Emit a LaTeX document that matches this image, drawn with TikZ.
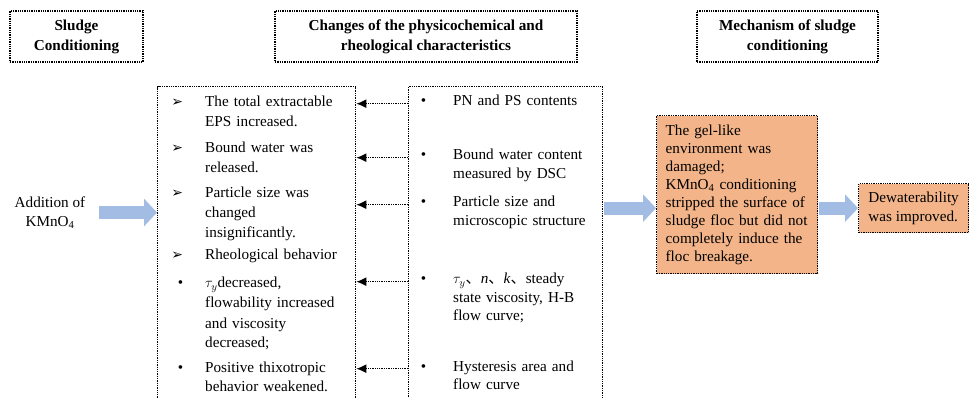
\documentclass[tikz,border=0pt]{standalone}
\usepackage{fontspec}
\setmainfont{Liberation Serif}
\newfontfamily\symfont{DejaVu Sans}
\newfontfamily\cjkfont{Noto Sans CJK SC}
\usetikzlibrary{arrows.meta, positioning}
\definecolor{gelorange}{RGB}{243,180,137}
\definecolor{flowblue}{RGB}{163,188,228}
\newcommand{\arrowbul}{{\symfont\fontsize{14}{14}\selectfont ➢}}
\newcommand{\dotbul}{•}
\newcommand{\dun}{{\cjkfont 、}}

\begin{document}
\begin{tikzpicture}[x=1pt, y=-1pt,
    dotbox/.style={draw, densely dotted, line width=1.3pt, inner sep=0pt},
    headbox/.style={dotbox, minimum height=51pt, align=center, font=\bfseries\fontsize{15.2}{20}\selectfont},
    listtxt/.style={anchor=base west, inner sep=0pt, text width=152pt, align=left, font=\fontsize{15.2}{20}\selectfont},
    midtxt/.style={listtxt, font=\fontsize{15.2}{18.5}\selectfont},
    dotarrow/.style={densely dotted, line width=1.3pt, -{Latex[length=10pt,width=9pt]}},
    blockarrow/.style={flowblue, line width=13pt, -{Triangle[length=13pt,width=27pt]}},
    font=\fontsize{15.2}{19}\selectfont]
    \useasboundingbox (0,0) rectangle (970,398);
    % Kopfzeile
    \node[headbox, minimum width=133pt] (hdcond) at (76.5,36.5) {Sludge\\Conditioning};
    \node[headbox, minimum width=302pt] (hdchange) at (426,36.5) {Changes of the physicochemical and\\rheological characteristics};
    \node[headbox, minimum width=181pt] (hdmech) at (787.5,36.5) {Mechanism of sludge\\conditioning};
    % Kaesten
    \node[dotbox, minimum width=198pt, minimum height=320pt, anchor=north west] (leftbox) at (157,86) {};
    \node[dotbox, minimum width=194pt, minimum height=320pt, anchor=north west] (midbox) at (408,86) {};
    \node[dotbox, fill=gelorange, anchor=north west, inner xsep=9pt, text width=143pt, minimum height=158pt, align=left,
        font=\fontsize{15.2}{18}\selectfont] (gelbox) at (656,115)
        {The gel-like\\environment was\\damaged;\\KMnO\textsubscript{4} conditioning\\stripped the surface of\\sludge floc but did not\\completely induce the\\floc breakage.};
    \node[dotbox, fill=gelorange, anchor=north west, minimum width=110pt, minimum height=49pt, align=left] (dewbox) at (858,183)
        {Dewaterability\\was improved.};
    \node[align=center, inner sep=0pt] (addn) at (50,212.5) {Addition of\\KMnO\textsubscript{4}};
    % Befunde (links)
    \foreach \n/\y/\b/\txt in {l1/107/\arrowbul/{The total extractable\\EPS increased.},
        l2/153/\arrowbul/{Bound water was\\released.},
        l3/198/\arrowbul/{Particle size was\\changed\\insignificantly.},
        l4/260/\arrowbul/{Rheological behavior},
        l5/288/\dotbul/{$\tau_y$decreased,\\flowability increased\\and viscosity\\decreased;},
        l6/372/\dotbul/{Positive thixotropic\\behavior weakened.}}
        \node[listtxt] (\n) at (205,\y) {\llap{\b\hspace{22pt}}\txt};
    % Messgroessen (Mitte)
    \foreach \n/\y/\txt in {m1/106/{PN and PS contents},
        m2/160/{Bound water content\\measured by DSC},
        m3/207/{Particle size and\\microscopic structure},
        m4/284/{$\tau_y$\dun\textit{n}\dun\textit{k}\dun steady\\state viscosity, H-B\\flow curve;},
        m5/371/{Hysteresis area and\\flow curve}}
        \node[midtxt] (\n) at (453,\y) {\llap{\dotbul\hspace{27pt}}\txt};
    % Pfeile
    \foreach \m in {m1,m2,m3,m4,m5}
        \draw[dotarrow] (\m.mid -| midbox.west) -- (\m.mid -| leftbox.east);
    \draw[blockarrow, shorten <=14pt] (addn.east) -- (leftbox.west |- addn.east);
    \draw[blockarrow, shorten <=1pt] (midbox.east |- dewbox.west) -- (gelbox.west |- dewbox.west);
    \draw[blockarrow, shorten <=1pt] (gelbox.east |- dewbox.west) -- (dewbox.west);
\end{tikzpicture}
\end{document}
